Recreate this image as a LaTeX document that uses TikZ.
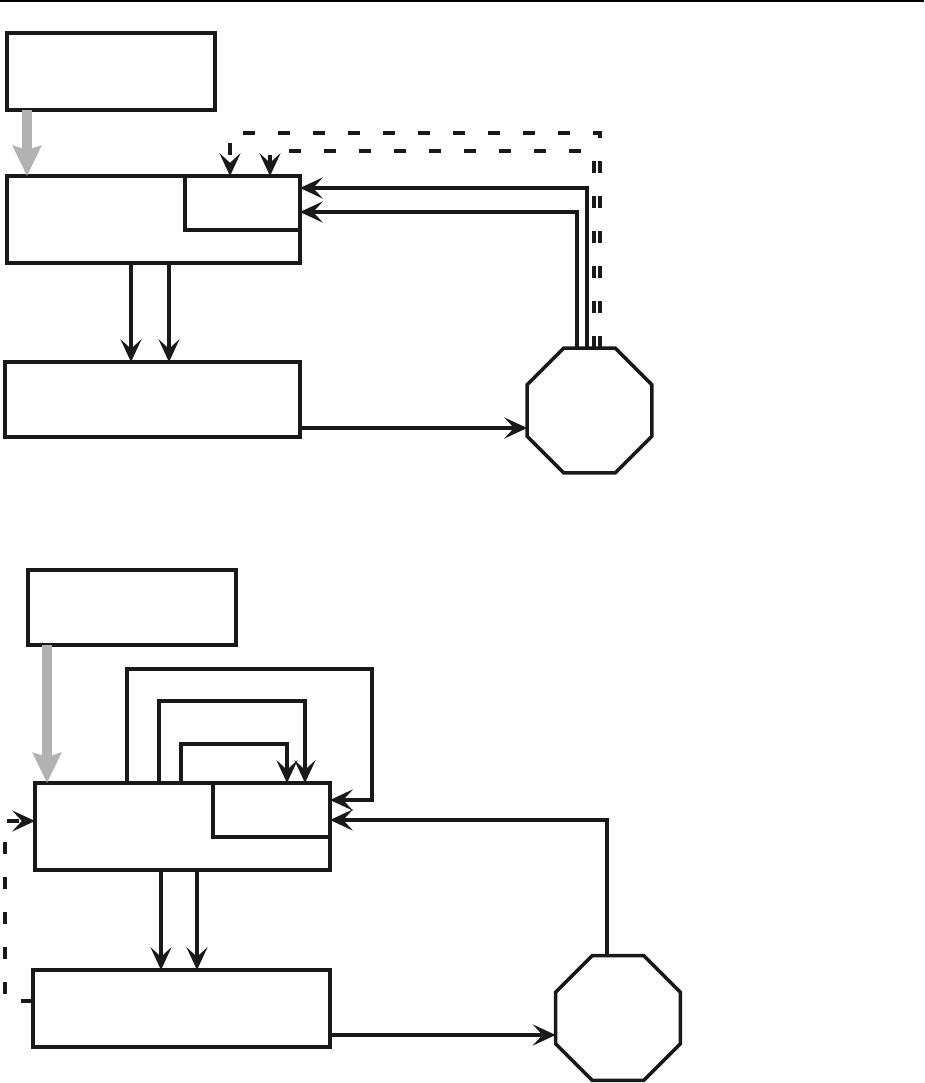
\documentclass[tikz,border=0pt]{standalone}
\usetikzlibrary{arrows.meta,shapes.geometric}
\begin{document}
\begin{tikzpicture}[x=0.02cm,y=-0.02cm,
      box/.style={
        % The shape:
        rectangle,inner sep=0pt,outer sep=0pt,anchor=north west,
        % The rest
        line width=2pt,draw=black!90},
      octagon/.style={
        % The shape:
        regular polygon,regular polygon sides=8,minimum size=2.7cm,inner sep=0pt,outer sep=0pt,
        % The rest
        line width=2pt,draw=black!90},
      flow/.style={line width=1.9pt,draw=black!90,-{Stealth[length=13pt,width=12pt,inset=5.5pt]}},
      dashflow/.style={flow,dash pattern=on 0.24cm off 0.46cm},
      feed/.style={line width=0.2cm,draw=black!30,-{Stealth[length=0.6cm,width=0.56cm,inset=0.08cm]}}]
    \useasboundingbox (0,0) rectangle (924,1083);
    \draw[line width=1.4pt] (0,1) -- (924,1);
    % upper scheme
    \node(boxA)[box, minimum width=4.16cm, minimum height=1.54cm] at (7,33) {};
    \node(boxB)[box, minimum width=5.86cm, minimum height=1.74cm] at (7,176) {};
    \node(subB)[box, minimum width=2.30cm, minimum height=1.08cm] at (185,176) {};
    \node(boxC)[box, minimum width=5.90cm, minimum height=1.50cm] at (5,362) {};
    \node(octA)[octagon] at (589.5,410.5) {};
    \path (boxA.south -| 27,0) edge[feed] (boxB.north -| 27,0);
    \path (boxB.south -| 131,0) edge[flow] (boxC.north -| 131,0);
    \path (boxB.south -| 169,0) edge[flow] (boxC.north -| 169,0);
    \path (boxC.east |- 0,428) edge[flow] (octA.west |- 0,428);
    \draw[flow] (octA.north -| 577,0) |- (subB.east |- 0,212);
    \draw[flow] (octA.north -| 587,0) |- (subB.east |- 0,188);
    \draw[dashflow] (octA.north -| 600,0) |- (230,133) -- (subB.north -| 230,0);
    \draw[dashflow] (octA.north -| 594,0) |- (270,151) -- (subB.north -| 270,0);
    % lower scheme
    \node(boxD)[box, minimum width=4.16cm, minimum height=1.50cm] at (28,570) {};
    \node(boxE)[box, minimum width=5.90cm, minimum height=1.74cm] at (35,783) {};
    \node(subE)[box, minimum width=2.34cm, minimum height=1.08cm] at (213,783) {};
    \node(boxF)[box, minimum width=5.94cm, minimum height=1.54cm] at (33,970) {};
    \node(octB)[octagon] at (618,1018) {};
    \path (boxD.south -| 47,0) edge[feed] (boxE.north -| 47,0);
    \draw[flow] (boxE.north -| 127,0) |- (372,669) |- (subE.east |- 0,800);
    \draw[flow] (boxE.north -| 159,0) |- (305,701) -- (subE.north -| 305,0);
    \draw[flow] (boxE.north -| 181,0) |- (287,744) -- (subE.north -| 287,0);
    \draw[flow] (octB.north -| 607,0) |- (subE.east |- 0,820);
    \draw[dashflow] (boxF.west |- 0,1001) -| (5,821) -- (boxE.west |- 0,821);
    \path (boxE.south -| 161,0) edge[flow] (boxF.north -| 161,0);
    \path (boxE.south -| 197,0) edge[flow] (boxF.north -| 197,0);
    \path (boxF.east |- 0,1035) edge[flow] (octB.west |- 0,1035);
  \end{tikzpicture}
\end{document}
